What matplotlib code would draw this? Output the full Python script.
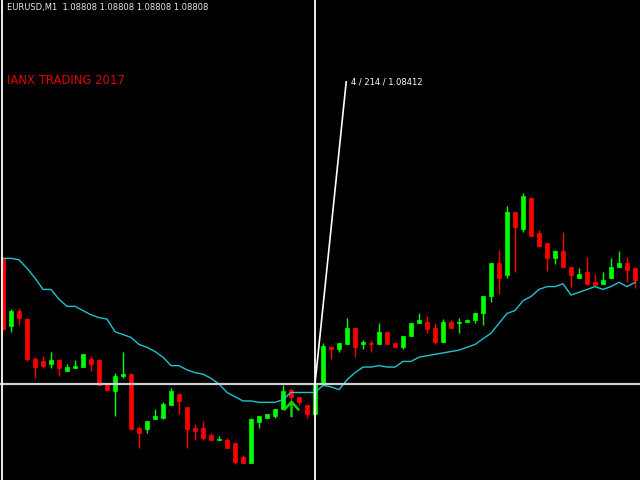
import matplotlib
matplotlib.use("Agg")
import matplotlib.pyplot as plt
from matplotlib.path import Path
from matplotlib.lines import Line2D
import numpy as np

# ---- data (EURUSD M1) ----
opens = [1.08287, 1.08239, 1.08250, 1.08244, 1.08216, 1.08214, 1.08212, 1.08215, 1.08207, 1.08209,
         1.08210, 1.08216, 1.08215, 1.08199, 1.08193, 1.08204, 1.08205, 1.08167, 1.08166, 1.08173,
         1.08174, 1.08183, 1.08191, 1.08182, 1.08167, 1.08167, 1.08162, 1.08158, 1.08158, 1.08156,
         1.08146, 1.08142, 1.08171, 1.08174, 1.08175, 1.08180, 1.08194, 1.08189, 1.08183, 1.08177,
         1.08198, 1.08224, 1.08223, 1.08226, 1.08238, 1.08226, 1.08227, 1.08226, 1.08235, 1.08227,
         1.08224, 1.08232, 1.08241, 1.08242, 1.08238, 1.08228, 1.08242, 1.08241, 1.08242, 1.08243,
         1.08248, 1.08260, 1.08284, 1.08275, 1.08320, 1.08308, 1.08330, 1.08305, 1.08298, 1.08287,
         1.08292, 1.08281, 1.08273, 1.08277, 1.08270, 1.08269, 1.08273, 1.08281, 1.08284, 1.08280]
highs = [1.08287, 1.08251, 1.08252, 1.08245, 1.08217, 1.08218, 1.08221, 1.08216, 1.08212, 1.08215,
         1.08219, 1.08218, 1.08216, 1.08199, 1.08206, 1.08221, 1.08206, 1.08168, 1.08172, 1.08180,
         1.08185, 1.08195, 1.08191, 1.08182, 1.08170, 1.08172, 1.08163, 1.08161, 1.08160, 1.08156,
         1.08148, 1.08174, 1.08175, 1.08177, 1.08180, 1.08197, 1.08195, 1.08189, 1.08183, 1.08199,
         1.08227, 1.08225, 1.08227, 1.08245, 1.08238, 1.08229, 1.08229, 1.08241, 1.08235, 1.08227,
         1.08232, 1.08241, 1.08248, 1.08246, 1.08241, 1.08244, 1.08243, 1.08245, 1.08244, 1.08248,
         1.08260, 1.08284, 1.08293, 1.08324, 1.08320, 1.08333, 1.08330, 1.08307, 1.08298, 1.08293,
         1.08306, 1.08281, 1.08280, 1.08288, 1.08276, 1.08277, 1.08287, 1.08292, 1.08288, 1.08280]
lows = [1.08236, 1.08235, 1.08240, 1.08214, 1.08202, 1.08209, 1.08209, 1.08204, 1.08207, 1.08209,
        1.08210, 1.08207, 1.08197, 1.08194, 1.08175, 1.08202, 1.08166, 1.08153, 1.08163, 1.08173,
        1.08173, 1.08183, 1.08177, 1.08153, 1.08158, 1.08158, 1.08158, 1.08158, 1.08153, 1.08141,
        1.08142, 1.08142, 1.08167, 1.08174, 1.08174, 1.08180, 1.08185, 1.08183, 1.08174, 1.08177,
        1.08198, 1.08216, 1.08221, 1.08226, 1.08217, 1.08223, 1.08221, 1.08226, 1.08226, 1.08224,
        1.08223, 1.08232, 1.08241, 1.08234, 1.08226, 1.08228, 1.08238, 1.08234, 1.08242, 1.08241,
        1.08240, 1.08256, 1.08262, 1.08273, 1.08277, 1.08306, 1.08303, 1.08295, 1.08278, 1.08283,
        1.08281, 1.08267, 1.08273, 1.08269, 1.08268, 1.08269, 1.08273, 1.08281, 1.08270, 1.08266]
closes = [1.08237, 1.08250, 1.08245, 1.08216, 1.08210, 1.08211, 1.08215, 1.08209, 1.08210, 1.08211,
          1.08219, 1.08212, 1.08197, 1.08194, 1.08204, 1.08205, 1.08166, 1.08163, 1.08172, 1.08175,
          1.08184, 1.08193, 1.08186, 1.08166, 1.08165, 1.08160, 1.08158, 1.08159, 1.08153, 1.08143,
          1.08142, 1.08173, 1.08175, 1.08177, 1.08180, 1.08193, 1.08189, 1.08185, 1.08177, 1.08198,
          1.08225, 1.08223, 1.08227, 1.08238, 1.08224, 1.08228, 1.08226, 1.08235, 1.08226, 1.08224,
          1.08232, 1.08241, 1.08243, 1.08237, 1.08228, 1.08242, 1.08238, 1.08242, 1.08243, 1.08248,
          1.08260, 1.08284, 1.08273, 1.08320, 1.08309, 1.08331, 1.08303, 1.08296, 1.08287, 1.08292,
          1.08281, 1.08275, 1.08276, 1.08269, 1.08268, 1.08272, 1.08281, 1.08284, 1.08279, 1.08272]
ma = [1.08287, 1.08287, 1.08286, 1.08280, 1.08273, 1.08265, 1.08265, 1.08258, 1.08253, 1.08253,
      1.08250, 1.08247, 1.08245, 1.08244, 1.08235, 1.08233, 1.08231, 1.08226, 1.08224, 1.08221,
      1.08217, 1.08211, 1.08211, 1.08208, 1.08206, 1.08205, 1.08202, 1.08198, 1.08192, 1.08189,
      1.08186, 1.08186, 1.08185, 1.08185, 1.08185, 1.08187, 1.08192, 1.08192, 1.08192, 1.08192,
      1.08197, 1.08196, 1.08194, 1.08201, 1.08206, 1.08210, 1.08210, 1.08211, 1.08210, 1.08210,
      1.08214, 1.08214, 1.08217, 1.08218, 1.08219, 1.08220, 1.08221, 1.08222, 1.08224, 1.08226,
      1.08230, 1.08234, 1.08241, 1.08248, 1.08250, 1.08257, 1.08260, 1.08265, 1.08267, 1.08267,
      1.08269, 1.08261, 1.08263, 1.08265, 1.08267, 1.08265, 1.08267, 1.08270, 1.08267, 1.08270]

symbol_label = "EURUSD,M1  1.08808 1.08808 1.08808 1.08808"
brand_label = "IANX TRADING 2017"
cross_bar = 39
cross_price = 1.08198
measure_bars = 3.9
measure_price = 1.08412
measure_label = "4 / 214 / 1.08412"
buy_arrow_bar = 36
buy_arrow_price = 1.08180

# ---- drawing ----
fig = plt.figure(figsize=(6.4, 4.8), dpi=100, facecolor="black")
ax = fig.add_axes([0, 0, 1, 1])
ax.set_facecolor("black")
ax.set_axis_off()

idx = np.arange(len(opens))
o = np.array(opens); h = np.array(highs); l = np.array(lows); c = np.array(closes)
up = c >= o
cols = np.where(up, "#00ff00", "#ff0000")

ax.vlines(idx, l, h, colors=cols, linewidth=1.0, zorder=2)
bottoms = np.minimum(o, c)
heights = np.abs(c - o)
ax.bar(idx, heights, bottom=bottoms, width=0.62, color=cols, edgecolor=cols,
       linewidth=0.5, zorder=3)

ax.plot(idx, ma, color="#20c4cc", linewidth=1.0, zorder=4)

# crosshair
ax.axhline(cross_price, color="#d0d0d0", linewidth=1.6, zorder=5)
ax.axvline(cross_bar, color="white", linewidth=1.3, zorder=5)
ax.plot([cross_bar, cross_bar + measure_bars], [cross_price, measure_price],
        color="white", linewidth=1.2, zorder=6)
ax.text(cross_bar + measure_bars + 0.6, measure_price, measure_label, color="white",
        fontsize=6.0, family="DejaVu Sans", va="center", ha="left", zorder=7)

# buy arrow
arrow = Path([(-1, -0.1), (0, 1), (1, -0.1), (0, 1), (0, -1)],
             [Path.MOVETO, Path.LINETO, Path.LINETO, Path.MOVETO, Path.LINETO])
ax.plot([buy_arrow_bar], [buy_arrow_price], marker=arrow, markersize=11,
        markeredgecolor="#10d010", markerfacecolor="none", markeredgewidth=1.8,
        linestyle="none", zorder=6)

ax.set_xlim(-0.375, 79.625)
ax.set_ylim(1.08130, 1.08470)

fig.add_artist(Line2D([1.5 / 640, 1.5 / 640], [0, 1], transform=fig.transFigure,
                      color="white", linewidth=1.3))

fig.text(7 / 640, 1 - 7.5 / 480, symbol_label, color="#e8e8e8", fontsize=6.05,
         family="DejaVu Sans", va="center", ha="left")
fig.text(7 / 640, 1 - 81 / 480, brand_label, color="#e00000", fontsize=8.4,
         family="DejaVu Sans", va="center", ha="left")

fig.savefig("out.png", dpi=100, facecolor="black")
